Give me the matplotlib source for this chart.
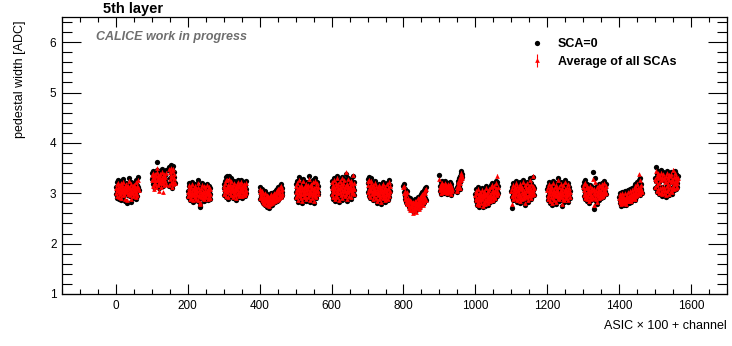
import numpy as np
import matplotlib
matplotlib.use("Agg")
import matplotlib.pyplot as plt
from matplotlib.ticker import MultipleLocator
from matplotlib.lines import Line2D

nan = np.nan

# ---------------- data (pedestal width in ADC, per ASIC, channels 0..63) ----------------
asics = list(range(16))
avg_err = 0.025  # uncertainty on the average over all SCAs [ADC]

sca0 = [
    [3.12, 2.98, 3.22, 3.05, 2.90, 3.15, 3.08, 3.26, 2.88, 3.01, 3.17, 3.10, 2.95, 3.24, 3.04, 2.86, 3.13, 3.19, 3.00, 3.07, 2.93, 3.28, 3.11, 2.97, 3.03, 3.16, 2.84, 3.09, 3.21, 3.02, 2.80, 3.14, 3.06, 3.18, 2.96, 3.12, 3.30, 3.00, 2.94, 3.08, 3.15, 2.82, 3.05, 3.23, 2.99, 3.11, 3.02, 3.17, 2.91, 3.09, 3.20, 3.04, 2.97, 3.14, 3.07, 3.27, 2.89, 3.01, 3.16, 3.10, 2.95, 3.33, 3.13, 3.06],
    [3.28, 3.40, 3.18, 3.33, 3.45, 3.22, 3.36, 3.12, 3.30, 3.42, 3.25, 3.38, 3.15, 3.47, 3.29, 3.62, 3.20, 3.35, 3.41, 3.26, 3.10, 3.32, 3.44, 3.23, 3.37, 3.17, 3.30, 3.48, 3.27, 3.34, 3.14, 3.39, 3.24, 3.43, 3.31, 3.19, 3.36, 3.28, 3.46, 3.21, nan, nan, nan, nan, nan, nan, nan, nan, 3.52, 3.14, 3.45, 3.30, 3.56, 3.22, 3.40, 3.10, 3.48, 3.35, 3.18, 3.54, 3.27, 3.42, 3.33, 3.20],
    [3.05, 2.92, 3.14, 2.98, 3.20, 2.86, 3.08, 3.01, 2.94, 3.16, 2.89, 3.04, 3.22, 2.97, 3.10, 2.83, 3.02, 3.13, 2.95, 3.07, 2.90, 3.18, 3.00, 2.87, 3.11, 2.96, 3.06, 2.84, 3.15, 3.26, 2.99, 3.09, 2.93, 2.78, 2.72, 2.74, 3.03, 2.91, 3.12, 2.98, 3.21, 2.88, 3.05, 2.95, 3.17, 3.01, 2.85, 3.08, 2.94, 3.14, 3.02, 2.90, 3.19, 2.97, 3.06, 2.87, 3.10, 3.00, 2.93, 3.15, 3.04, 2.89, 3.11, 2.99],
    [3.10, 2.96, 3.18, 3.04, 3.25, 3.33, 3.08, 2.92, 3.15, 3.34, 3.02, 3.20, 2.88, 3.12, 3.06, 3.35, 3.22, 2.99, 3.14, 3.09, 2.94, 3.30, 3.17, 3.03, 3.11, 2.90, 3.19, 3.07, 3.00, 3.24, 2.95, 3.13, 3.05, 2.86, 3.16, 3.10, 3.21, 2.98, 3.08, 3.26, 3.01, 3.14, 2.93, 3.18, 3.06, 3.23, 2.97, 3.12, 3.04, 3.27, 2.91, 3.09, 3.15, 3.02, 3.19, 2.96, 3.11, 3.22, 3.05, 2.94, 3.16, 3.08, 3.25, 3.00],
    [3.05, 2.88, 3.12, 2.95, 3.00, 2.84, 3.08, 2.92, 2.80, 3.02, 2.87, 2.96, 2.78, 2.93, 2.85, 3.04, 2.76, 2.90, 2.82, 2.98, 2.73, 2.88, 2.95, 2.79, 2.86, 2.70, 2.91, 2.83, 2.97, 2.75, 2.89, 2.81, 3.00, 2.77, 2.92, 2.86, 2.99, 2.80, 2.94, 2.84, 3.03, 2.88, 2.96, 2.82, 3.06, 2.91, 2.98, 2.85, 3.09, 2.93, 3.01, 2.87, 3.12, 2.95, 3.04, 2.90, 3.15, 2.98, 3.08, 2.92, 3.18, 3.02, 3.11, 2.96],
    [3.02, 3.18, 2.90, 3.10, 3.25, 2.95, 3.08, 2.82, 3.15, 3.00, 3.32, 2.93, 3.12, 3.05, 2.87, 3.20, 2.98, 3.14, 2.80, 3.07, 3.28, 2.96, 3.11, 3.03, 2.89, 3.17, 3.00, 2.92, 3.22, 3.06, 2.85, 3.13, 2.99, 3.19, 2.91, 3.09, 3.34, 3.01, 2.94, 3.16, 2.83, 3.04, 3.21, 2.97, 3.10, 2.88, 3.14, 3.02, 3.26, 2.95, 3.08, 2.81, 3.12, 3.00, 3.30, 2.93, 3.17, 3.05, 2.90, 3.23, 3.07, 2.98, 3.15, 3.03],
    [3.12, 2.96, 3.25, 3.05, 2.88, 3.18, 3.30, 3.01, 3.14, 2.84, 3.09, 3.22, 2.93, 3.16, 3.03, 3.35, 2.90, 3.11, 3.20, 2.98, 3.07, 2.82, 3.26, 3.13, 3.00, 3.19, 2.94, 3.10, 3.33, 3.04, 2.87, 3.15, 3.23, 2.97, 3.08, 3.28, 2.91, 3.12, 3.02, 3.38, 3.17, 2.95, 3.21, 3.06, 2.85, 3.14, 3.31, 3.00, 3.10, 2.92, 3.24, 3.05, 3.16, 2.89, 3.27, 3.09, 2.99, 3.19, 3.03, 3.34, 3.13, 2.96, 3.22, 3.07],
    [3.20, 3.02, 3.28, 3.10, 2.95, 3.33, 3.15, 3.05, 2.90, 3.22, 3.08, 3.30, 2.98, 3.13, 3.01, 2.86, 3.18, 3.06, 2.93, 3.11, 3.25, 2.99, 3.04, 2.88, 3.16, 3.00, 2.80, 3.09, 2.96, 3.14, 3.03, 2.84, 3.19, 2.97, 3.07, 2.91, 3.12, 2.78, 3.02, 3.17, 2.94, 3.08, 2.87, 3.23, 3.00, 2.92, 3.11, 3.05, 2.83, 3.15, 2.98, 3.06, 2.89, 3.21, 3.03, 2.95, 3.13, 2.86, 3.09, 3.27, 3.01, 2.93, 3.16, 3.04],
    [3.15, 3.02, 3.18, 2.95, 3.08, 2.88, 3.00, 2.92, 2.82, 3.05, 2.86, 2.78, 2.93, 2.80, 2.72, 2.88, 2.76, 2.84, 2.68, 2.90, 2.79, 2.74, 2.86, 2.70, 2.82, 2.77, 2.64, 2.85, 2.73, 2.80, 2.69, 2.88, 2.75, 2.83, 2.66, 2.78, 2.87, 2.72, 2.81, 2.93, 2.76, 2.85, 2.70, 2.89, 2.79, 2.95, 2.74, 2.84, 2.98, 2.80, 2.91, 2.86, 3.02, 2.78, 2.94, 2.88, 3.06, 2.83, 2.97, 3.10, 2.90, 3.04, 2.87, 3.12],
    [3.36, 3.15, 3.05, 3.22, 3.10, 2.98, 3.18, 3.08, 3.25, 3.02, 3.13, 3.20, 3.00, 3.11, 3.06, 3.24, 3.16, 3.03, 3.09, 3.19, 2.99, 3.14, 3.07, 3.21, 3.04, 3.12, 3.17, 3.01, 3.10, 3.23, 3.06, 3.13, 2.97, 3.18, 3.08, 3.03, nan, nan, nan, nan, nan, nan, nan, nan, nan, nan, nan, nan, 3.05, 3.12, 3.02, 3.18, 3.10, 3.24, 3.15, 3.30, 3.08, 3.35, 3.22, 3.40, 3.28, 3.45, 3.33, 3.38],
    [2.98, 2.85, 3.08, 2.90, 2.76, 3.02, 2.93, 2.81, 3.12, 2.88, 2.97, 2.73, 3.05, 2.91, 2.84, 3.00, 2.78, 2.95, 3.10, 2.87, 2.72, 2.99, 2.92, 3.06, 2.80, 2.94, 2.86, 3.03, 2.75, 2.96, 3.14, 2.89, 2.83, 3.01, 2.92, 2.77, 3.07, 2.95, 2.88, 3.11, 2.82, 3.00, 2.94, 3.16, 2.86, 3.04, 2.91, 3.20, 2.97, 2.84, 3.09, 3.02, 2.93, 3.18, 2.89, 3.06, 3.24, 2.99, 3.12, 2.95, 3.22, 3.05, 3.14, 3.00],
    [3.05, 2.92, 2.70, 3.12, 2.98, 3.20, 2.86, 3.08, 2.95, 3.15, 3.02, 2.89, 3.25, 2.97, 3.10, 2.83, 3.04, 3.18, 2.93, 3.07, 2.88, 3.13, 3.00, 2.80, 3.22, 2.96, 3.09, 2.91, 3.16, 3.03, 2.85, 3.11, 2.99, 3.27, 2.94, 3.06, 2.87, 3.19, 3.01, 2.76, 3.14, 2.95, 3.08, 2.90, 3.23, 3.04, 2.82, 3.12, 2.98, 3.17, 2.93, 3.06, 3.30, 2.99, 3.10, 2.88, 3.20, 3.02, 2.94, 3.15, 3.07, 3.32, 2.97, 3.11],
    [3.08, 2.94, 3.15, 2.86, 3.02, 3.22, 2.97, 3.10, 2.81, 3.05, 2.91, 3.18, 2.99, 2.76, 3.12, 3.03, 2.88, 3.25, 2.95, 3.07, 2.84, 3.14, 3.00, 2.92, 3.20, 2.79, 3.06, 2.97, 3.11, 2.89, 3.30, 3.01, 2.93, 3.16, 2.85, 3.04, 2.98, 3.23, 2.90, 3.09, 2.74, 3.13, 3.00, 2.87, 3.19, 2.96, 3.05, 2.82, 3.10, 2.99, 3.26, 2.92, 3.07, 2.88, 3.15, 3.02, 2.95, 3.21, 2.83, 3.08, 2.97, 3.13, 2.90, 3.04],
    [3.15, 2.95, 3.08, 3.22, 2.88, 3.02, 3.26, 2.92, 3.11, 2.98, 3.18, 2.84, 3.05, 2.93, 3.13, 2.99, 2.80, 3.09, 3.01, 2.90, 3.16, 2.96, 3.04, 2.86, 3.12, 2.94, 3.07, 2.89, 3.42, 3.00, 2.68, 3.10, 2.97, 3.30, 2.91, 3.06, 2.85, 3.14, 2.99, 2.78, 3.08, 3.02, 2.93, 3.19, 2.87, 3.11, 3.00, 2.95, 3.17, 2.90, 3.06, 3.13, 2.96, 3.21, 3.03, 2.92, 3.15, 3.08, 2.98, 3.24, 3.04, 3.12, 2.99, 3.18],
    [2.92, 2.80, 3.00, 2.86, 2.75, 2.95, 2.83, 2.90, 2.78, 3.02, 2.88, 2.82, 2.97, 2.77, 2.91, 2.85, 3.04, 2.80, 2.93, 2.87, 2.76, 2.99, 2.89, 2.84, 3.06, 2.92, 2.81, 2.96, 2.88, 3.08, 2.85, 2.94, 3.01, 2.83, 2.97, 2.90, 3.10, 2.87, 3.03, 2.95, 2.91, 3.12, 2.98, 2.86, 3.05, 3.18, 2.93, 3.00, 3.14, 2.96, 3.08, 3.22, 2.99, 3.11, 3.04, 3.26, 3.02, 3.15, 2.97, 3.30, 3.09, 3.06, 3.19, 3.01],
    [3.30, 3.10, 3.52, 3.25, 3.02, 3.38, 3.15, 3.44, 3.06, 3.32, 2.98, 3.40, 3.22, 3.08, 3.35, 3.00, 3.28, 3.46, 3.12, 2.95, 3.36, 3.05, 3.30, 3.42, 3.10, 2.97, 3.33, 3.24, 3.04, 3.39, 2.93, 3.27, 3.14, 3.45, 3.01, 3.34, 3.19, 3.07, 3.41, 2.96, 3.29, 3.11, 3.37, 3.03, 3.23, 3.43, 3.09, 3.31, 2.99, 3.26, 3.40, 3.13, 3.35, 3.06, 3.22, 3.44, 3.17, 3.32, 3.08, 3.38, 3.20, 3.28, 3.12, 3.34],
]

avg_all = [
    [3.10, 3.01, 3.18, 3.06, 2.94, 3.13, 3.07, 3.21, 2.92, 3.03, 3.14, 3.09, 2.98, 3.20, 3.05, 2.90, 3.11, 3.16, 3.02, 3.07, 2.96, 3.23, 3.10, 2.99, 3.04, 3.14, 2.89, 3.08, 3.18, 3.03, 2.87, 3.12, 3.06, 3.15, 2.98, 3.11, 3.25, 3.01, 2.97, 3.08, 3.13, 2.88, 3.05, 3.19, 3.00, 3.10, 3.03, 3.15, 2.94, 3.08, 3.17, 3.05, 2.99, 3.12, 3.07, 3.22, 2.93, 3.02, 3.14, 3.09, 2.97, 3.27, 3.12, 3.06],
    [3.26, 3.36, 3.15, 3.30, 3.40, 3.18, 3.33, 3.08, 3.27, 3.38, 3.21, 3.34, 3.12, 3.42, 3.26, 3.50, 3.17, 3.31, 3.37, 3.23, 3.05, 3.29, 3.39, 3.20, 3.33, 3.13, 3.27, 3.43, 3.24, 3.31, 3.02, 3.35, 3.21, 3.38, 3.28, 3.16, 3.33, 3.25, 3.41, 3.18, nan, nan, nan, nan, nan, nan, nan, nan, 3.48, 3.16, 3.42, 3.28, 3.50, 3.20, 3.37, 3.12, 3.44, 3.32, 3.19, 3.49, 3.25, 3.39, 3.30, 3.21],
    [3.03, 2.94, 3.11, 2.99, 3.16, 2.89, 3.06, 3.01, 2.96, 3.13, 2.91, 3.03, 3.18, 2.98, 3.08, 2.87, 3.02, 3.11, 2.96, 3.05, 2.92, 3.15, 3.00, 2.89, 3.09, 2.97, 3.05, 2.86, 3.12, 3.20, 2.99, 3.07, 2.94, 2.82, 2.78, 2.80, 3.02, 2.92, 3.10, 2.98, 3.17, 2.90, 3.04, 2.96, 3.14, 3.01, 2.88, 3.07, 2.95, 3.12, 3.02, 2.92, 3.16, 2.98, 3.05, 2.89, 3.08, 3.00, 2.94, 3.13, 3.03, 2.91, 3.09, 2.99],
    [3.09, 2.98, 3.15, 3.05, 3.21, 3.26, 3.08, 2.95, 3.13, 3.27, 3.03, 3.17, 2.92, 3.11, 3.06, 3.28, 3.19, 3.00, 3.12, 3.08, 2.96, 3.24, 3.14, 3.04, 3.10, 2.93, 3.16, 3.07, 3.01, 3.20, 2.97, 3.11, 3.05, 2.90, 3.14, 3.09, 3.18, 2.99, 3.08, 3.22, 3.02, 3.12, 2.95, 3.15, 3.06, 3.19, 2.99, 3.10, 3.04, 3.23, 2.94, 3.08, 3.13, 3.03, 3.16, 2.98, 3.10, 3.18, 3.05, 2.96, 3.14, 3.07, 3.21, 3.01],
    [3.02, 2.90, 3.08, 2.95, 2.99, 2.87, 3.05, 2.93, 2.83, 3.00, 2.89, 2.95, 2.81, 2.92, 2.87, 3.01, 2.79, 2.90, 2.84, 2.96, 2.77, 2.88, 2.94, 2.81, 2.87, 2.74, 2.90, 2.84, 2.95, 2.78, 2.89, 2.83, 2.98, 2.80, 2.91, 2.87, 2.97, 2.82, 2.93, 2.86, 3.00, 2.89, 2.95, 2.84, 3.03, 2.91, 2.97, 2.87, 3.06, 2.93, 3.00, 2.89, 3.09, 2.95, 3.03, 2.91, 3.12, 2.97, 3.06, 2.93, 3.15, 3.01, 3.09, 2.96],
    [3.03, 3.15, 2.93, 3.09, 3.21, 2.97, 3.07, 2.86, 3.13, 3.01, 3.27, 2.95, 3.11, 3.05, 2.90, 3.17, 2.99, 3.12, 2.85, 3.06, 3.24, 2.98, 3.10, 3.04, 2.92, 3.15, 3.01, 2.94, 3.19, 3.06, 2.88, 3.12, 3.00, 3.16, 2.93, 3.08, 3.29, 3.02, 2.96, 3.14, 2.87, 3.04, 3.18, 2.99, 3.09, 2.91, 3.12, 3.03, 3.22, 2.97, 3.07, 2.85, 3.11, 3.01, 3.25, 2.95, 3.15, 3.05, 2.92, 3.20, 3.07, 2.99, 3.13, 3.04],
    [3.11, 2.99, 3.22, 3.06, 2.92, 3.17, 3.27, 3.03, 3.13, 2.88, 3.09, 3.20, 2.96, 3.15, 3.04, 3.31, 2.93, 3.11, 3.19, 3.00, 3.08, 2.86, 3.24, 3.12, 3.02, 3.18, 2.97, 3.10, 3.30, 3.05, 2.91, 3.14, 3.21, 2.99, 3.08, 3.26, 2.94, 3.12, 3.04, 3.42, 3.16, 2.98, 3.19, 3.07, 2.89, 3.13, 3.28, 3.02, 3.10, 2.95, 3.22, 3.06, 3.15, 2.92, 3.25, 3.09, 3.01, 3.18, 3.05, 3.36, 3.12, 2.99, 3.20, 3.08],
    [3.17, 3.03, 3.24, 3.09, 2.97, 3.27, 3.13, 3.05, 2.93, 3.19, 3.07, 3.25, 2.99, 3.12, 3.02, 2.89, 3.16, 3.06, 2.95, 3.10, 3.21, 3.00, 3.04, 2.91, 3.14, 3.01, 2.84, 3.08, 2.97, 3.12, 3.03, 2.88, 3.16, 2.98, 3.06, 2.93, 3.10, 2.82, 3.02, 3.15, 2.96, 3.07, 2.90, 3.19, 3.00, 2.94, 3.09, 3.05, 2.87, 3.13, 2.99, 3.05, 2.91, 3.18, 3.03, 2.97, 3.11, 2.89, 3.08, 3.23, 3.01, 2.95, 3.14, 3.04],
    [3.12, 3.00, 3.14, 2.94, 3.05, 2.88, 2.98, 2.91, 2.83, 3.02, 2.85, 2.78, 2.90, 2.79, 2.71, 2.86, 2.75, 2.82, 2.66, 2.87, 2.77, 2.72, 2.84, 2.67, 2.80, 2.75, 2.61, 2.82, 2.70, 2.78, 2.66, 2.85, 2.73, 2.81, 2.63, 2.76, 2.84, 2.70, 2.79, 2.90, 2.74, 2.83, 2.68, 2.87, 2.77, 2.92, 2.72, 2.82, 2.95, 2.78, 2.89, 2.84, 2.99, 2.77, 2.92, 2.86, 3.03, 2.82, 2.95, 3.07, 2.89, 3.01, 2.86, 3.09],
    [3.28, 3.13, 3.06, 3.19, 3.09, 3.00, 3.16, 3.08, 3.21, 3.03, 3.12, 3.17, 3.02, 3.10, 3.06, 3.20, 3.14, 3.04, 3.09, 3.16, 3.01, 3.12, 3.07, 3.18, 3.05, 3.11, 3.15, 3.02, 3.09, 3.19, 3.06, 3.12, 2.99, 3.15, 3.08, 3.04, nan, nan, nan, nan, nan, nan, nan, nan, nan, nan, nan, nan, 3.07, 3.13, 3.04, 3.17, 3.11, 3.22, 3.15, 3.27, 3.10, 3.32, 3.21, 3.37, 3.26, 3.41, 3.31, 3.35],
    [2.97, 2.87, 3.05, 2.91, 2.79, 3.00, 2.93, 2.83, 3.09, 2.89, 2.96, 2.76, 3.03, 2.91, 2.86, 2.99, 2.81, 2.95, 3.07, 2.88, 2.75, 2.98, 2.92, 3.04, 2.82, 2.94, 2.87, 3.01, 2.78, 2.96, 3.11, 2.90, 2.85, 3.00, 2.92, 2.80, 3.05, 2.95, 2.89, 3.09, 2.84, 2.99, 2.94, 3.13, 2.87, 3.03, 2.92, 3.17, 2.97, 2.86, 3.07, 3.02, 2.94, 3.15, 2.91, 3.05, 3.21, 3.00, 3.10, 2.96, 3.35, 3.04, 3.12, 3.01],
    [3.04, 2.94, 2.78, 3.10, 2.99, 3.17, 2.89, 3.07, 2.96, 3.13, 3.02, 2.91, 3.21, 2.98, 3.09, 2.86, 3.04, 3.15, 2.95, 3.06, 2.90, 3.11, 3.00, 2.84, 3.19, 2.97, 3.08, 2.93, 3.14, 3.03, 2.88, 3.10, 2.99, 3.23, 2.95, 3.05, 2.90, 3.16, 3.01, 2.81, 3.12, 2.96, 3.07, 2.92, 3.20, 3.04, 2.86, 3.11, 2.98, 3.15, 2.95, 3.06, 3.26, 3.00, 3.09, 2.91, 3.18, 3.02, 2.96, 3.14, 3.07, 3.35, 2.98, 3.10],
    [3.06, 2.95, 3.12, 2.89, 3.02, 3.18, 2.98, 3.08, 2.85, 3.04, 2.93, 3.15, 2.99, 2.80, 3.10, 3.03, 2.90, 3.21, 2.96, 3.06, 2.87, 3.12, 3.00, 2.94, 3.17, 2.83, 3.05, 2.97, 3.09, 2.91, 3.26, 3.01, 2.95, 3.13, 2.88, 3.03, 2.98, 3.19, 2.92, 3.07, 2.78, 3.11, 3.00, 2.89, 3.16, 2.97, 3.04, 2.86, 3.08, 2.99, 3.22, 2.94, 3.06, 2.90, 3.13, 3.02, 2.96, 3.18, 2.87, 3.07, 2.98, 3.11, 2.92, 3.03],
    [3.13, 2.97, 3.07, 3.18, 2.91, 3.02, 3.21, 2.94, 3.10, 2.99, 3.15, 2.88, 3.04, 2.95, 3.11, 3.00, 2.84, 3.08, 3.01, 2.92, 3.14, 2.97, 3.04, 2.89, 3.10, 2.95, 3.06, 2.91, 3.28, 3.00, 2.76, 3.09, 2.98, 3.22, 2.93, 3.05, 2.88, 3.12, 2.99, 2.83, 3.07, 3.02, 2.95, 3.16, 2.90, 3.09, 3.00, 2.96, 3.14, 2.92, 3.05, 3.11, 2.97, 3.18, 3.03, 2.94, 3.13, 3.07, 2.99, 3.20, 3.04, 3.10, 3.00, 3.15],
    [2.91, 2.83, 2.98, 2.87, 2.79, 2.94, 2.85, 2.90, 2.81, 3.00, 2.88, 2.84, 2.95, 2.80, 2.90, 2.86, 3.01, 2.83, 2.92, 2.88, 2.79, 2.97, 2.89, 2.85, 3.03, 2.91, 2.84, 2.95, 2.89, 3.05, 2.87, 2.93, 2.99, 2.85, 2.96, 2.90, 3.07, 2.88, 3.01, 2.95, 2.92, 3.09, 2.97, 2.88, 3.03, 3.15, 2.94, 3.00, 3.11, 2.97, 3.07, 3.19, 3.00, 3.10, 3.04, 3.38, 3.02, 3.13, 2.98, 3.26, 3.08, 3.06, 3.16, 3.02],
    [3.28, 3.12, 3.45, 3.24, 3.05, 3.34, 3.16, 3.40, 3.08, 3.30, 3.01, 3.36, 3.21, 3.10, 3.32, 3.03, 3.26, 3.41, 3.13, 2.99, 3.33, 3.07, 3.28, 3.38, 3.12, 3.00, 3.30, 3.23, 3.06, 3.35, 2.97, 3.25, 3.15, 3.40, 3.04, 3.31, 3.19, 3.09, 3.37, 2.99, 3.27, 3.13, 3.34, 3.05, 3.22, 3.39, 3.10, 3.29, 3.02, 3.25, 3.47, 3.14, 3.32, 3.08, 3.22, 3.40, 3.18, 3.30, 3.10, 3.35, 3.20, 3.27, 3.13, 3.31],
]

title_text = "5th layer"
label_text = "CALICE work in progress"
xlabel_text = "ASIC \u00d7 100 + channel"
ylabel_text = "pedestal width [ADC]"
legend_labels = ["SCA=0", "Average of all SCAs"]

# ---------------- build x positions ----------------
x_all, y0_all, ya_all = [], [], []
for a, v0, va in zip(asics, sca0, avg_all):
    ch = np.arange(len(v0))
    x_all.append(a * 100 + ch)
    y0_all.append(np.array(v0, dtype=float))
    ya_all.append(np.array(va, dtype=float))
x_all = np.concatenate(x_all)
y0_all = np.concatenate(y0_all)
ya_all = np.concatenate(ya_all)

plt.rcParams['font.family'] = ['Liberation Sans', 'DejaVu Sans']

W, H = 732, 346
fig = plt.figure(figsize=(W / 100, H / 100), dpi=100)
ax = fig.add_axes([62 / W, 1 - 294 / H, (727 - 62) / W, (294 - 17) / H])

ax.plot(x_all, y0_all, 'o', color='black', ms=3.8, mew=0, zorder=2)
eb = ax.errorbar(x_all, ya_all, yerr=avg_err, fmt='^', color='#ff0000', ms=3.4, mew=0,
                 elinewidth=0.8, capsize=1.2, capthick=0.8, zorder=3)

ax.set_xlim(-150, 1700)
ax.set_ylim(1, 6.5)
ax.xaxis.set_major_locator(MultipleLocator(200))
ax.xaxis.set_minor_locator(MultipleLocator(50))
ax.yaxis.set_major_locator(MultipleLocator(1))
ax.yaxis.set_minor_locator(MultipleLocator(0.2))
ax.tick_params(which='both', direction='in', top=True, right=True, width=0.8,
               labelsize=8.5, colors='black')
ax.tick_params(axis='x', which='major', length=7, pad=4)
ax.tick_params(axis='x', which='minor', length=3.6)
ax.tick_params(axis='y', which='major', length=13.5, pad=4)
ax.tick_params(axis='y', which='minor', length=7)
for s in ax.spines.values():
    s.set_linewidth(0.9)

fig.text(103 / W, 1 - 9 / H, title_text, fontsize=10.5, fontweight='bold',
         ha='left', va='center')
fig.text(96 / W, 1 - 37 / H, label_text, fontsize=9, fontweight='bold', style='italic',
         color='#6e6e6e', ha='left', va='center')
fig.text(727 / W, 1 - 326 / H, xlabel_text, fontsize=9, ha='right', va='center')
fig.text(20 / W, 1 - 20 / H, ylabel_text, fontsize=9, rotation=90, ha='center', va='top')

h0 = Line2D([], [], marker='o', ls='none', color='black', ms=3.8, mew=0)
ax.legend([h0, eb], legend_labels, loc='upper left', bbox_to_anchor=(529 / W, 1 - 38 / H),
          bbox_transform=fig.transFigure, frameon=False,
          prop={'weight': 'bold', 'size': 9}, handlelength=1.2, handletextpad=1.1,
          labelspacing=0.45, borderpad=0, borderaxespad=0)

fig.savefig("out.png", dpi=100)
